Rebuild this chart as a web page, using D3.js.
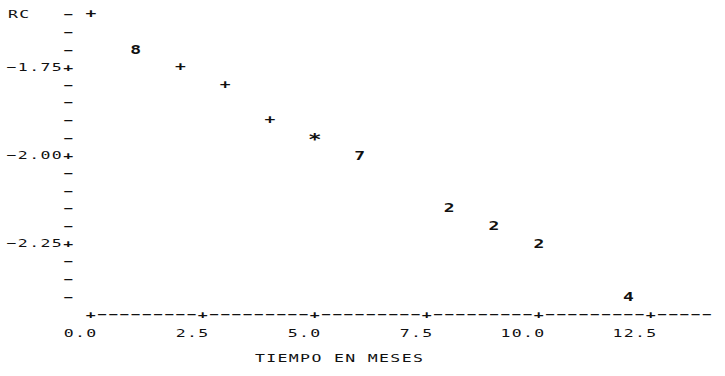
<!DOCTYPE html>
<html>
<head>
<meta charset="utf-8">
<script src="https://cdn.jsdelivr.net/npm/d3@7"></script>
<style>
  html, body { margin: 0; padding: 0; background: #fff; }
  svg { display: block; }
  text { font-family: "DejaVu Sans Mono", "Liberation Mono", monospace; fill: #111; }
</style>
</head>
<body>
<svg id="chart" width="725" height="376"></svg>
<script>
// printer-style scatter: RC vs months
const months  = [0, 1, 2, 3, 4, 5, 6, 8, 9, 10, 12];
const rc      = [-1.60, -1.70, -1.75, -1.80, -1.90, -1.95, -2.00, -2.15, -2.20, -2.25, -2.40];
const symbols = ["+", "8", "+", "+", "+", "*", "7", "2", "2", "2", "4"];

const xTicks = [0, 2.5, 5, 7.5, 10, 12.5];
const yTicks = [-1.75, -2.00, -2.25];
const xLabel = "TIEMPO EN MESES";
const yLabel = "RC";

const STRETCH = 1.5;      // wide printer glyphs
const COL = 0.25;         // one print column in months
const ROW = 0.05;         // one print row in RC units
const DASH = "\u2013";    // printer dash, most of a cell wide

const x = d3.scaleLinear().domain([0, 12.5]).range([91.5, 651.5]);
const y = d3.scaleLinear().domain([-2.45, -1.60]).range([314, 14]);

const svg = d3.select("#chart");
const axisX = 69;             // column of the y axis
const axisY = y(-2.45);       // row of the x axis

// place one printer character centred at (px, py)
function glyph(g, ch, px, py, opts = {}) {
  return g.append("text")
    .attr("transform", `translate(${px},${py}) scale(${STRETCH},1)`)
    .attr("text-anchor", opts.anchor || "middle")
    .attr("dy", "0.36em")
    .style("font-size", (opts.size || 11) + "px")
    .style("font-weight", opts.weight || "normal")
    .style("letter-spacing", (opts.spacing ?? 0.9) + "px")
    .text(ch);
}

// ── y axis: a column of dashes with "+" at the labelled rows ───────────
const gy = svg.append("g");
const yRows = d3.range(0, 17).map(i => -1.60 - i * ROW);
yRows.forEach(v => {
  const major = yTicks.some(t => Math.abs(t - v) < 1e-6);
  glyph(gy, major ? "+" : DASH, axisX, y(v), { weight: "bold", size: major ? 11 : 9 });
});
yTicks.forEach(t => {
  glyph(gy, d3.format(".2f")(t), axisX - 6, y(t), { anchor: "end" });
});
glyph(gy, yLabel, 8, y(-1.60), { anchor: "start" });

// ── x axis: "+-----" row, runs on past the last label ──────────────────
const gx = svg.append("g");
d3.range(0, 13.76, COL).forEach(v => {
  const major = xTicks.some(t => Math.abs(t - v) < 1e-6);
  glyph(gx, major ? "+" : DASH, x(v), axisY, { weight: "bold", size: major ? 11 : 9 });
});
xTicks.forEach(t => {
  glyph(gx, d3.format(".1f")(t), x(t) + 6, axisY + 19, { anchor: "end" });
});
glyph(gx, xLabel, 255, axisY + 44, { anchor: "start" });

// ── points ─────────────────────────────────────────────────────────────
const gp = svg.append("g");
months.forEach((m, i) => {
  const star = symbols[i] === "*";
  glyph(gp, symbols[i], x(m), y(rc[i]) + (star ? 2 : 0), { weight: "bold", size: star ? 15 : 12 });
});
</script>
</body>
</html>
